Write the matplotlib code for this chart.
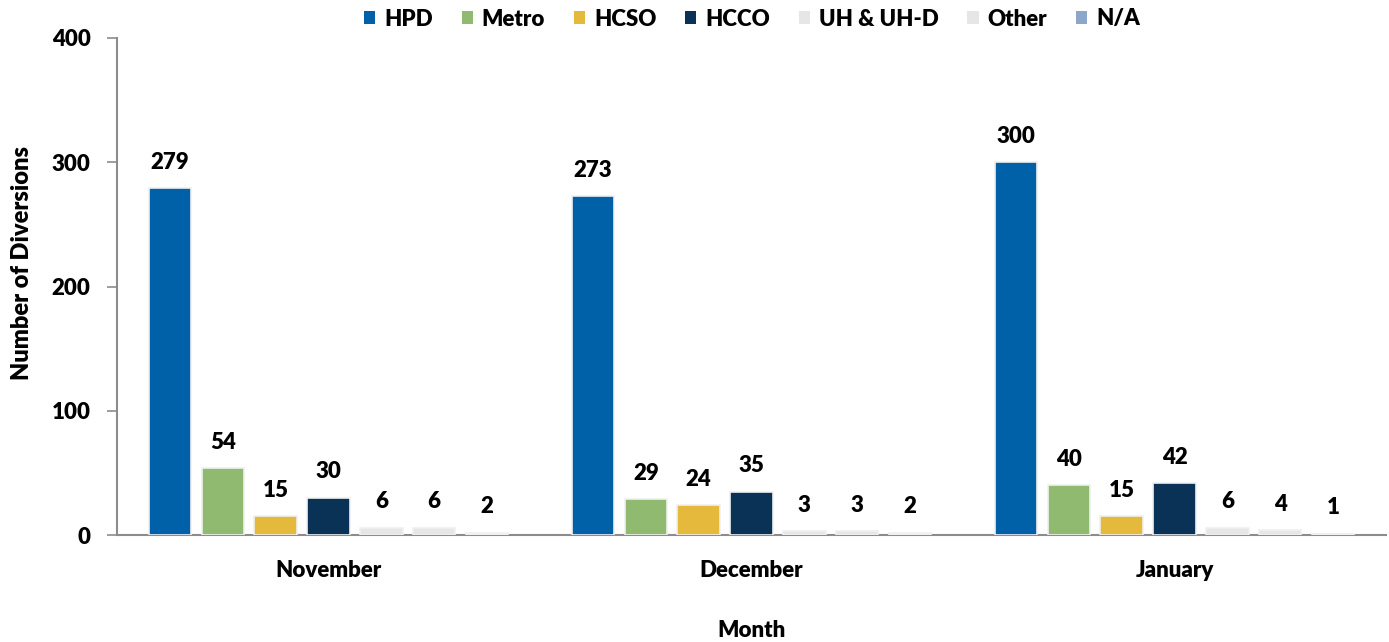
import matplotlib.pyplot as plt
import numpy as np
from matplotlib.patches import Patch

plt.rcParams['font.family'] = ['Lato', 'DejaVu Sans']
plt.rcParams['font.weight'] = 'heavy'

months = ['November', 'December', 'January']
agencies = ['HPD', 'Metro', 'HCSO', 'HCCO', 'UH & UH-D', 'Other', 'N/A']
values = {
    'HPD': [279, 273, 300],
    'Metro': [54, 29, 40],
    'HCSO': [15, 24, 15],
    'HCCO': [30, 35, 42],
    'UH & UH-D': [6, 3, 6],
    'Other': [6, 3, 4],
    'N/A': [2, 2, 1],
}
bar_colors = ['#0060A8', '#8FBA6F', '#E4B93C', '#0A3256', '#E6E6E6', '#E6E6E6', '#FAFAFA']
legend_colors = ['#0060A8', '#8FBA6F', '#E4B93C', '#0A3256', '#E6E6E6', '#E6E6E6', '#8DA7CB']

fig = plt.figure(figsize=(13.89, 6.42), dpi=100)
ax = fig.add_axes([117 / 1389, 1 - 535 / 642, (1386 - 117) / 1389, (535 - 38) / 642])

x = np.arange(len(months))
step = 0.125
width = 0.1
for i, (name, color) in enumerate(zip(agencies, bar_colors)):
    pos = x + (i - 3) * step
    bars = ax.bar(pos, values[name], width, color=color, edgecolor='#F0F0F0', linewidth=1.2, zorder=3)
    for b, v in zip(bars, values[name]):
        ax.annotate(str(v), (b.get_x() + b.get_width() / 2, v), xytext=(0, 11),
                    textcoords='offset points', ha='center', va='bottom',
                    fontsize=16, fontweight='heavy', color='black')

ax.set_xlim(-0.5, 2.5)
ax.set_ylim(0, 400)
ax.set_yticks([0, 100, 200, 300, 400])
ax.set_xticks(x)
ax.set_xticklabels(months)
ax.tick_params(axis='y', length=7, width=1.2, color='#8C8C8C', labelsize=16, pad=12)
ax.tick_params(axis='x', length=0, labelsize=16, pad=18)
for s in ['top', 'right']:
    ax.spines[s].set_visible(False)
for s in ['left', 'bottom']:
    ax.spines[s].set_color('#8C8C8C')
    ax.spines[s].set_linewidth(1.5)

ax.set_ylabel('Number of Diversions', fontsize=17, fontweight='heavy')
ax.yaxis.set_label_coords(-0.066, 0.548)
ax.set_xlabel('Month', fontsize=16, fontweight='heavy')
ax.xaxis.set_label_coords(0.5, -0.172)

handles = [Patch(facecolor=c, edgecolor='none') for c in legend_colors]
fig.legend(handles, agencies, loc='center', bbox_to_anchor=(752 / 1389, 1 - 19 / 642),
           ncol=7, frameon=False, fontsize=16, handlelength=0.5, handleheight=0.5,
           handletextpad=0.4, columnspacing=1.3)

fig.savefig('out.png', dpi=100)
